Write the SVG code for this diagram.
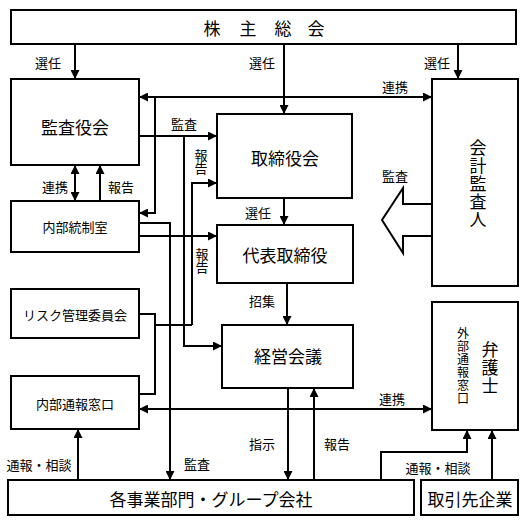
<svg xmlns="http://www.w3.org/2000/svg" width="527" height="523" viewBox="0 0 527 523">
<style>
.box{fill:#fff;stroke:#000;stroke-width:2}
.ln{fill:none;stroke:#000;stroke-width:2}
.a{marker-end:url(#ah)}
.aa{marker-end:url(#ah);marker-start:url(#ah)}
text{font-family:"Noto Sans CJK JP","Noto Sans CJK SC",sans-serif;fill:#000;text-anchor:middle;dominant-baseline:central}
.big{font-size:17px}
.mid{font-size:13px}
.sm{font-size:13px}
.v{writing-mode:vertical-rl}
</style>
<defs>
<marker id="ah" viewBox="0 0 10 10" refX="10" refY="5" markerWidth="9" markerHeight="9" markerUnits="userSpaceOnUse" orient="auto-start-reverse">
<path d="M0,0 L10,5 L0,10 z" fill="#000"/>
</marker>
</defs>
<rect width="527" height="523" fill="#fff"/>

<g id="kabunushi"><rect class="box" x="11" y="10" width="505" height="34"/>
<text class="big" x="212 248 283 316" y="27">株主総会</text></g>

<g id="kansayakukai"><rect class="box" x="11" y="79" width="128" height="86"/>
<text class="big" x="75" y="126">監査役会</text></g>

<g id="torishimariyakukai"><rect class="box" x="217" y="114" width="135" height="84"/>
<text class="big" x="285" y="157">取締役会</text></g>

<g id="daihyo"><rect class="box" x="217" y="225" width="136" height="58"/>
<text class="big" x="285" y="254">代表取締役</text></g>

<g id="keiei"><rect class="box" x="222" y="325" width="131" height="63"/>
<text class="big" x="288" y="355">経営会議</text></g>

<g id="kaikeikansanin"><rect class="box" x="432" y="79" width="86" height="207"/>
<text class="big v" x="478" y="184" letter-spacing="1">会計監査人</text></g>

<g id="naibutousei"><rect class="box" x="11" y="201" width="128" height="51"/>
<text class="mid" x="75" y="226">内部統制室</text></g>

<g id="risk"><rect class="box" x="11" y="289" width="128" height="49"/>
<text class="mid" x="75" y="314">リスク管理委員会</text></g>

<g id="naibutsuho"><rect class="box" x="11" y="376" width="128" height="53"/>
<text class="mid" x="75" y="403">内部通報窓口</text></g>

<g id="bengoshi"><rect class="box" x="432" y="302" width="86" height="128"/>
<text class="big v" x="490" y="368" letter-spacing="1">弁護士</text>
<text class="v" x="463" y="366" font-size="12" letter-spacing="1">外部通報窓口</text></g>

<g id="jigyobumon"><rect class="box" x="8" y="480" width="406" height="35"/>
<text class="big" x="211" y="498">各事業部門・グループ会社</text></g>

<g id="torihikisaki"><rect class="box" x="421" y="480" width="97" height="35"/>
<text class="big" x="470" y="498">取引先企業</text></g>

<g id="connectors">
<path class="ln a" d="M75,44 V79"/>
<path class="ln a" d="M284,44 V114"/>
<path class="ln a" d="M458,44 V79"/>
<path class="ln aa" d="M139,97 H432"/>
<path class="ln a" d="M155,97 V213 H139"/>
<path class="ln a" d="M139,136 H217"/>
<path class="ln a" d="M184,136 V346 H222"/>
<path class="ln a" d="M192,325 V183 H217"/>
<path class="ln" d="M139,314 H155 V394 H139"/>
<path class="ln" d="M155,325 H192"/>
<path class="ln a" d="M139,223 H170 V480"/>
<path class="ln a" d="M139,236 H217"/>
<path class="ln aa" d="M75,165 V201"/>
<path class="ln a" d="M100,201 V165"/>
<path class="ln a" d="M284,198 V225"/>
<path class="ln a" d="M287,283 V325"/>
<path class="ln a" d="M288,388 V480"/>
<path class="ln a" d="M314,480 V388"/>
<path class="ln aa" d="M139,409 H432"/>
<path class="ln a" d="M78,480 V429"/>
<path class="ln a" d="M381,480 V452 H467 V430"/>
<path class="ln a" d="M492,480 V430"/>
<polygon points="432,204 403,204 403,188 382,220 403,253 403,236 432,236" fill="#fff" stroke="#000" stroke-width="2"/>

<text class="sm" x="48" y="62">選任</text>
<text class="sm" x="262" y="62">選任</text>
<text class="sm" x="437" y="62">選任</text>
<text class="sm" x="395" y="86">連携</text>
<text class="sm" x="184" y="123">監査</text>
<text class="sm v" x="201" y="162">報告</text>
<text class="sm" x="55" y="186">連携</text>
<text class="sm" x="121" y="186">報告</text>
<text class="sm" x="258" y="212">選任</text>
<text class="sm v" x="202" y="261">報告</text>
<text class="sm" x="395" y="175">監査</text>
<text class="sm" x="262" y="300">招集</text>
<text class="sm" x="392" y="398">連携</text>
<text class="sm" x="262" y="443">指示</text>
<text class="sm" x="337" y="443">報告</text>
<text class="sm" x="197" y="463">監査</text>
<text class="sm" x="39" y="464">通報・相談</text>
<text class="sm" x="438" y="467">通報・相談</text>
</g>
</svg>
